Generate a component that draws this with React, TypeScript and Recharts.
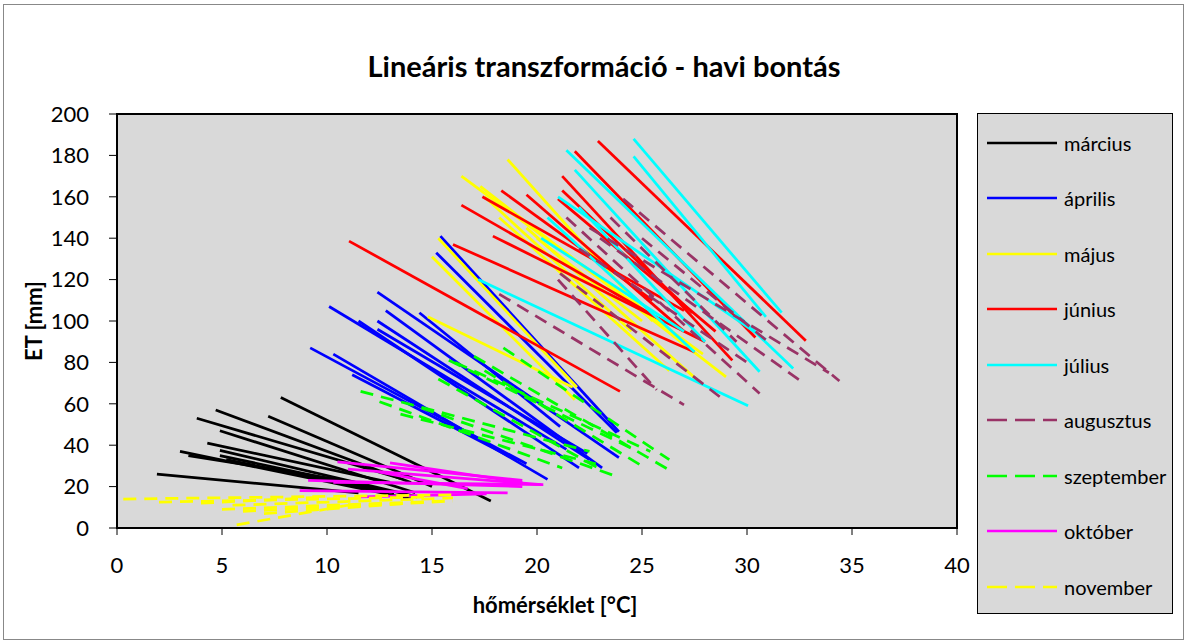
import { LineChart, Line, XAxis, YAxis, ReferenceArea } from 'recharts'

// each segment: [x1, y1, x2, y2]  (hőmérséklet °C, ET mm)
type Seg = [number, number, number, number]

const marcius: Seg[] = [
  [7.8, 63, 17.8, 13], [4.7, 57, 14.0, 22], [3.8, 53, 13.5, 24], [7.2, 54, 15.0, 20],
  [4.9, 47, 14.2, 17], [4.3, 41, 13.0, 22], [3.0, 37, 14.0, 14], [3.4, 35, 12.0, 21],
  [4.9, 37.5, 14.3, 15], [4.9, 35, 13.2, 17], [1.9, 26, 11.5, 17], [5.2, 33, 12.5, 18],
]
const aprilis: Seg[] = [
  [15.4, 141, 23.9, 46.5], [15.2, 133, 23.8, 46], [12.4, 114, 23.9, 34], [10.1, 107, 21.4, 38],
  [12.8, 105, 23.1, 29], [11.5, 100, 22.0, 29], [12.4, 100, 22.5, 33], [14.4, 104, 21.1, 49],
  [12.4, 96, 22.4, 36], [9.2, 87, 19.5, 31], [10.3, 84, 20.5, 23.5], [11.2, 74, 19.0, 33],
]
const majus: Seg[] = [
  [18.6, 178, 25.5, 100], [16.4, 170, 27.9, 84], [17.3, 165, 29.0, 73], [18.2, 150, 26.3, 76],
  [15.0, 131, 21.8, 62], [15.3, 140, 21.9, 68], [14.8, 102, 21.7, 68], [19.5, 145, 27.8, 70],
  [20.0, 140, 25.0, 100], [17.5, 160, 24.5, 95],
]
const junius: Seg[] = [
  [11.05, 138.6, 23.95, 66], [22.9, 187, 32.8, 90.5], [21.8, 182, 30.4, 92], [21.2, 170, 29.3, 81],
  [21.2, 163, 27.4, 104], [21.0, 159, 28.5, 95], [16.4, 156, 26.0, 100], [18.3, 163, 25.5, 110],
  [19.5, 161, 27.0, 95], [17.4, 160, 27.0, 105], [17.9, 141, 28.0, 90], [16.0, 137, 27.5, 85],
]
const julius: Seg[] = [
  [24.6, 188, 31.65, 104], [24.6, 179.5, 30.9, 102], [21.4, 182.5, 32.2, 77], [21.8, 173, 30.6, 75.5],
  [17.2, 120, 30.05, 59], [21.0, 160, 30.9, 91], [20.5, 150, 27.5, 85], [22.0, 155, 28.0, 90],
  [20.2, 140, 27.0, 95],
]
const augusztus: Seg[] = [
  [18.2, 113, 27.0, 59.5], [24.1, 159, 34.4, 71], [21.4, 150, 30.6, 65], [22.5, 145, 33.9, 75],
  [23.0, 140, 32.6, 70.7], [21.1, 123, 28.7, 63.4], [21.0, 120, 25.7, 66.7], [22.0, 135, 30.0, 80],
  [23.5, 150, 29.5, 90], [25.0, 140, 31.0, 90],
]
const szeptember: Seg[] = [
  [11.6, 66, 22.5, 37], [12.5, 61, 21.2, 29], [15.8, 81, 24.6, 38], [18.4, 87, 26.3, 33],
  [16.1, 80, 25.4, 37], [15.3, 72, 23.0, 28.5], [17.0, 83, 26.3, 28], [14.5, 58, 23.6, 25.6],
  [13.5, 55, 22.8, 31], [17.5, 76, 25.0, 30],
]
const oktober: Seg[] = [
  [10.5, 32, 19.3, 23], [11.0, 28.5, 20.2, 21], [9.1, 23, 19.3, 20], [8.7, 18, 18.6, 17],
  [11.6, 15, 17.6, 16.5], [13.0, 31.5, 19.3, 22], [10.3, 22, 20.3, 21], [12.5, 27, 16.7, 19],
]
const november: Seg[] = [
  [0.3, 14, 16.0, 16], [2.0, 12.5, 15.0, 15], [5.0, 9, 15.5, 13], [6.0, 8, 13.0, 12],
  [5.5, 11, 16.0, 14.5], [7.0, 7, 14.0, 12], [5.7, 1.5, 11.0, 11], [4.0, 12, 10.0, 15],
  [8.0, 9, 16.0, 13],
]

const xTicks = [0, 5, 10, 15, 20, 25, 30, 35, 40]
const yTicks = [0, 20, 40, 60, 80, 100, 120, 140, 160, 180, 200]

const months = [
  { name: 'március', color: '#000000', dashed: false, segs: marcius },
  { name: 'április', color: '#0000ff', dashed: false, segs: aprilis },
  { name: 'május', color: '#ffff00', dashed: false, segs: majus },
  { name: 'június', color: '#ff0000', dashed: false, segs: junius },
  { name: 'július', color: '#00ffff', dashed: false, segs: julius },
  { name: 'augusztus', color: '#993366', dashed: true, segs: augusztus },
  { name: 'szeptember', color: '#00ff00', dashed: true, segs: szeptember },
  { name: 'október', color: '#ff00ff', dashed: false, segs: oktober },
  { name: 'november', color: '#ffff00', dashed: true, segs: november },
]

const font = 'Lato, "Open Sans", sans-serif'

export default function App() {
  return (
    <div style={{ position: 'fixed', left: 0, top: 0, width: 1186, height: 643, background: '#fff', fontFamily: font }}>
      <div style={{ position: 'absolute', left: 3, top: 4, width: 1179, height: 634, border: '1px solid #888' }} />
      <div style={{ position: 'absolute', left: 0, width: 1208, top: 51, lineHeight: '29px', textAlign: 'center', fontWeight: 700, fontSize: 29, color: '#000' }}>
        Lineáris transzformáció - havi bontás
      </div>
      <div style={{ position: 'absolute', left: 0, top: 0 }}>
        <LineChart width={1186} height={643} margin={{ top: 114, right: 229, bottom: 80, left: 57 }}>
          <ReferenceArea x1={0} x2={40} y1={0} y2={200} fill="#d9d9d9" fillOpacity={1} stroke="#000" strokeWidth={2} />
          <XAxis
            type="number"
            dataKey="x"
            domain={[0, 40]}
            ticks={xTicks}
            allowDataOverflow
            height={35}
            stroke="#000"
            tickSize={7}
            tickMargin={22}
            tick={{ fontSize: 22, fill: '#000', fontFamily: font }}
          />
          <YAxis
            type="number"
            dataKey="y"
            domain={[0, 200]}
            ticks={yTicks}
            allowDataOverflow
            width={60}
            stroke="#000"
            tickSize={8}
            tickMargin={20}
            tick={{ fontSize: 22, fill: '#000', fontFamily: font }}
          />
          {months.map((m) =>
            m.segs.map((s, i) => (
              <Line
                key={m.name + i}
                data={[{ x: s[0], y: s[1] }, { x: s[2], y: s[3] }]}
                dataKey="y"
                stroke={m.color}
                strokeWidth={2.75}
                strokeDasharray={m.dashed ? '13 8' : undefined}
                dot={false}
                activeDot={false}
                legendType="none"
                isAnimationActive={false}
              />
            ))
          )}
        </LineChart>
      </div>
      <div style={{ position: 'absolute', left: 33, top: 321, transform: 'translate(-50%, -50%) rotate(-90deg)', fontWeight: 700, fontSize: 22, whiteSpace: 'nowrap' }}>
        ET [mm]
      </div>
      <div style={{ position: 'absolute', left: 555, top: 604, transform: 'translate(-50%, -50%)', fontWeight: 700, fontSize: 22, whiteSpace: 'nowrap' }}>
        hőmérséklet [°C]
      </div>
      <div style={{ position: 'absolute', left: 977, top: 113, width: 194, height: 499, background: '#d9d9d9', border: '1px solid #000' }}>
        {months.map((m, i) => (
          <div key={m.name} style={{ position: 'absolute', left: 0, top: 28.5 + i * 55.5 - 12, height: 24, display: 'flex', alignItems: 'center' }}>
            <svg width={86} height={24} style={{ display: 'block' }}>
              <line x1={9} x2={79} y1={12} y2={12} stroke={m.color} strokeWidth={2.5} strokeDasharray={m.dashed ? '20 8' : undefined} />
            </svg>
            <span style={{ fontSize: 20, color: '#000', whiteSpace: 'nowrap' }}>{m.name}</span>
          </div>
        ))}
      </div>
    </div>
  )
}
